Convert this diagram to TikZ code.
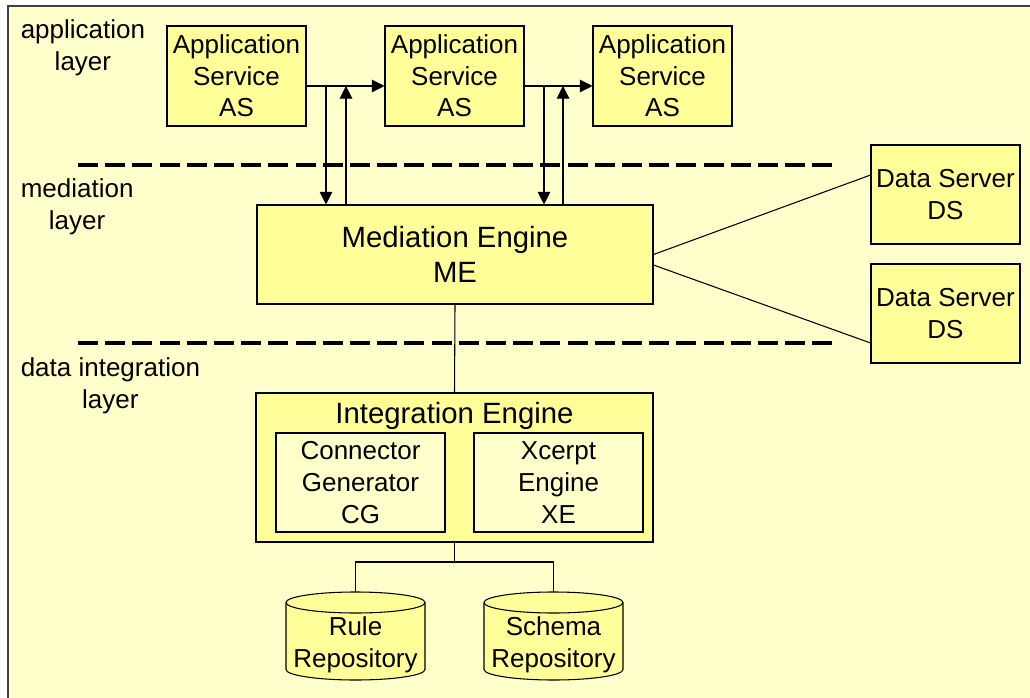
\documentclass[tikz,border=0pt]{standalone}
\usepackage{fontspec}
\setmainfont{Liberation Sans}
\usetikzlibrary{arrows.meta,calc}
\definecolor{paper}{HTML}{FFFFCC}
\definecolor{boxfill}{HTML}{FFFF99}
\definecolor{frameline}{HTML}{404040}

% repository cylinder: #1 name, #2 centre x, #3 label
\newcommand\repocyl[3]{%
  \filldraw[fill=boxfill, draw=black, line width=0.8pt]
    (#2-69.5,602.5) -- (#2-69.5,669.5)
    arc[start angle=180, end angle=360, x radius=52.125pt, y radius=7.875pt]
    -- (#2+69.5,602.5)
    arc[start angle=0, end angle=180, x radius=52.125pt, y radius=7.875pt]
    -- cycle;
  \draw[line width=0.8pt] (#2-69.5,602.5)
    arc[start angle=180, end angle=360, x radius=52.125pt, y radius=7.875pt];
  \node[txt] (#1) at (#2,645) {#3};
  \coordinate (#1top) at (#2,592);
}

\begin{document}
\begin{tikzpicture}[x=0.75pt, y=-0.75pt,
  txt/.style={font=\fontsize{19.5}{23.75}\selectfont, align=center, inner sep=0pt},
  bigtxt/.style={font=\fontsize{22}{26.25}\selectfont, align=center, inner sep=0pt},
  box/.style={draw=black, line width=0.8pt, fill=boxfill, inner sep=0pt, txt},
  subbox/.style={box, fill=paper},
  arr/.style={line width=0.8pt, -{Triangle[length=9.5pt, width=9.5pt]}},
  link/.style={line width=0.8pt},
  layerline/.style={line width=2.6pt, dash pattern=on 15pt off 5.4pt},
  layertxt/.style={txt, anchor=west},
]
\useasboundingbox (0,0) rectangle (1030,698);

% page and frame
\fill[white] (0,0) rectangle (1030,698);
\fill[paper] (7.7,6.2) rectangle (1030,698);
\draw[frameline, line width=1.5pt] (7.7,698) -- (7.7,6.2) -- (1030,6.2);

% layer names
\node[layertxt] (lapp) at (20.5,48) {application\\layer};
\node[layertxt] (lmed) at (20.5,207) {mediation\\layer};
\node[layertxt] (ldat) at (20.5,385.5) {data integration\\layer};

% layer separators
\coordinate (sepAa) at (78,165);  \coordinate (sepAb) at (833,165);
\coordinate (sepBa) at (78,343);  \coordinate (sepBb) at (833,343);
\draw[layerline] (sepAa) -- (sepAb);
\draw[layerline] (sepBa) -- (sepBb);

% application services
\node[box, minimum width=104.25pt, minimum height=75pt] (as1) at (236.5,76) {Application\\Service\\AS};
\node[box, minimum width=104.25pt, minimum height=75pt] (as2) at (454.5,76) {Application\\Service\\AS};
\node[box, minimum width=104.25pt, minimum height=75pt] (as3) at (662.5,76) {Application\\Service\\AS};

% mediation engine and data servers
\node[box, bigtxt, minimum width=297pt, minimum height=74.25pt] (me) at (455,254.5) {Mediation Engine\\ME};
\node[box, minimum width=111.75pt, minimum height=74.25pt] (ds1) at (945.5,194.5) {Data Server\\DS};
\node[box, minimum width=111.75pt, minimum height=74.25pt] (ds2) at (945.5,313.5) {Data Server\\DS};

% integration engine
\node[box, minimum width=297.75pt, minimum height=111.75pt] (ie) at (454.5,467.5) {};
\node[bigtxt] (ietitle) at (454.5,416) {Integration Engine};
\node[subbox, minimum width=126.75pt, minimum height=74.25pt] (cg) at (360.5,482.5) {Connector\\Generator\\CG};
\node[subbox, minimum width=126.75pt, minimum height=74.25pt] (xe) at (558.5,482.5) {Xcerpt\\Engine\\XE};

% repositories
\repocyl{rule}{355.5}{Rule\\Repository}
\repocyl{schema}{553.5}{Schema\\Repository}

% service chain
\coordinate (row) at (0,86);
\draw[arr] (as1.east |- row) -- (as2.west |- row);
\draw[arr] (as2.east |- row) -- (as3.west |- row);

% service <-> mediation engine
\coordinate (da) at (326,86);  \coordinate (ua) at (346,86);
\coordinate (db) at (544,86);  \coordinate (ub) at (563,86);
\draw[arr] (da) -- (da |- me.north);
\draw[arr] (ua |- me.north) -- (ua);
\draw[arr] (db) -- (db |- me.north);
\draw[arr] (ub |- me.north) -- (ub);

% mediation engine to data servers
\draw[link] (me.east) -- ([yshift=14.6pt]ds1.west);
\draw[link] ([yshift=-7.9pt]me.east) -- ([yshift=-22.1pt]ds2.west);

% mediation engine to integration engine
\draw[link] (me.south) -- (ie.north);

% integration engine to repositories
\coordinate (bus) at (0,562);
\draw[link] (ie.south) -- (ie.south |- bus);
\draw[link] (ruletop) |- (ie.south |- bus) -| (schematop);
\end{tikzpicture}
\end{document}
